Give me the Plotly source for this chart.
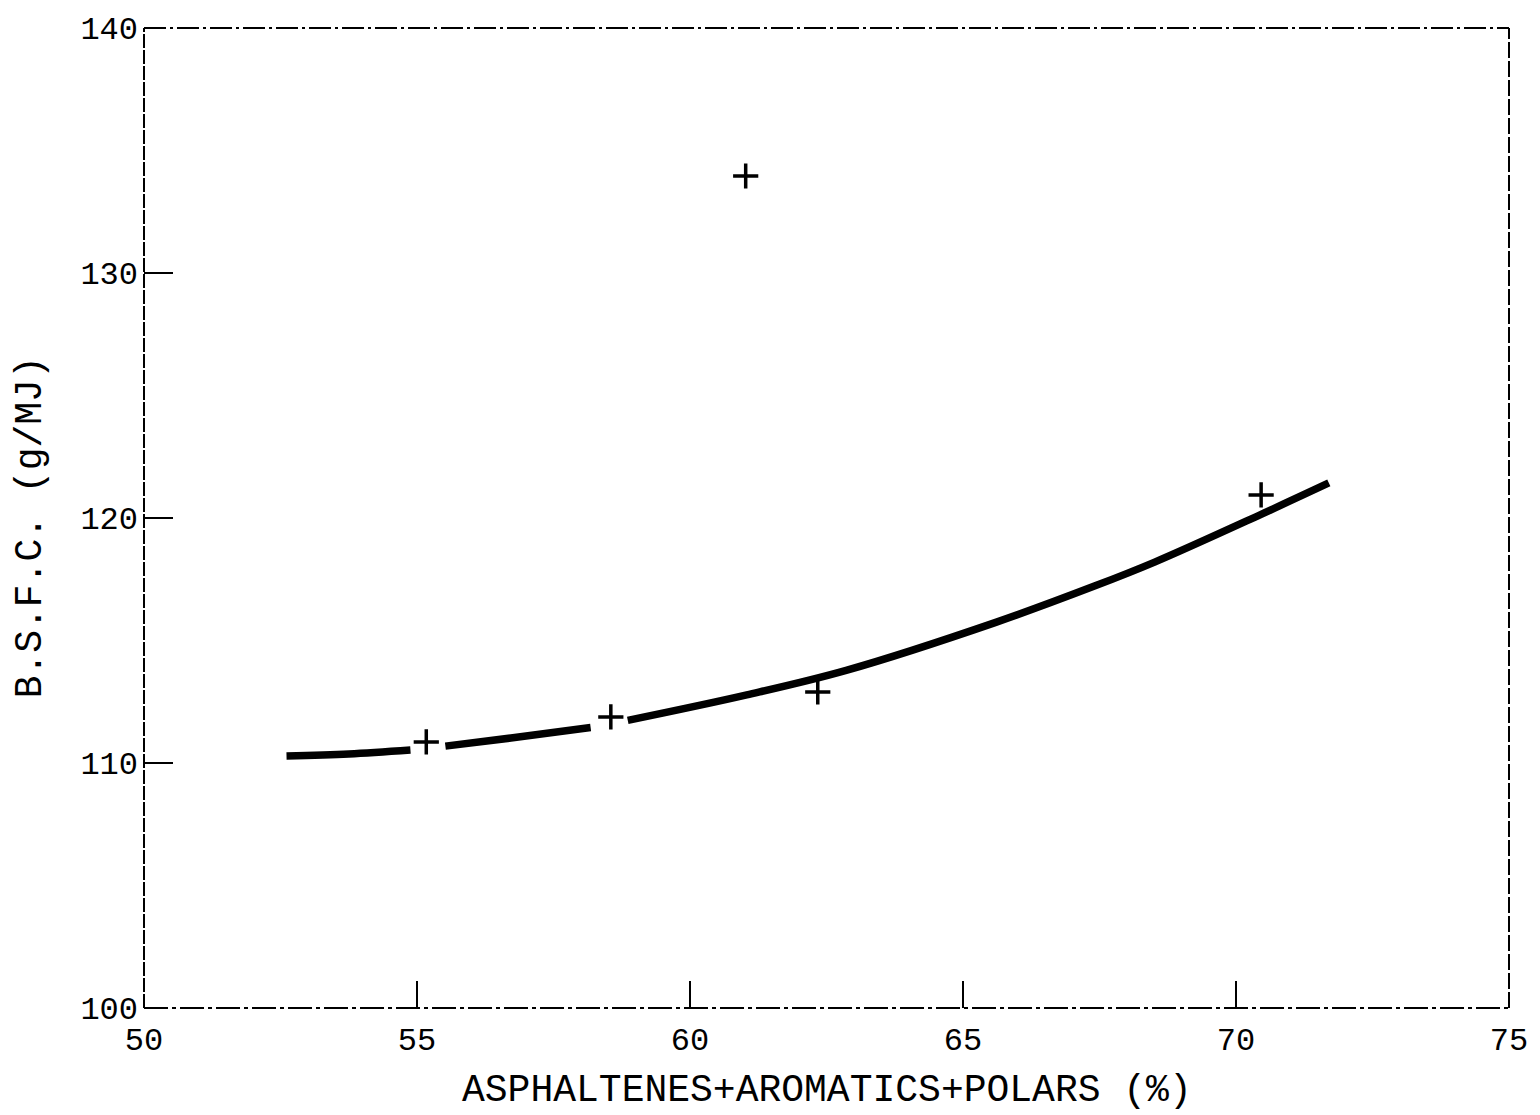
import plotly.graph_objects as go

# Measured points (+ markers)
pts_x = [55.17, 58.55, 61.02, 62.34, 70.46]
pts_y = [110.86, 111.88, 133.96, 112.90, 120.94]

# Fitted curve (three pieces, broken around the markers)
curve_x = [52.61, 53.75, 54.88, None,
           55.52, 56.72, 58.18, None,
           58.86, 61.04, 62.86, 65.60, 67.42, 68.51, 70.46, 71.70]
curve_y = [110.29, 110.37, 110.53, None,
           110.69, 111.02, 111.45, None,
           111.74, 112.78, 113.78, 115.74, 117.23, 118.20, 120.15, 121.43]

x_ticks = [50, 55, 60, 65, 70, 75]
y_ticks = [100, 110, 120, 130, 140]
x_title = "ASPHALTENES+AROMATICS+POLARS (%)"
y_title = "B.S.F.C. (g/MJ)"

FONT = "Liberation Mono"

fig = go.Figure()
fig.add_trace(go.Scatter(x=curve_x, y=curve_y, mode="lines", connectgaps=False,
                         line=dict(color="black", width=7.5, shape="spline", smoothing=1.0),
                         showlegend=False, hoverinfo="skip"))
fig.add_trace(go.Scatter(x=pts_x, y=pts_y, mode="markers",
                         marker=dict(symbol="cross-thin", size=18,
                                     line=dict(color="black", width=3.5)),
                         showlegend=False))

# Frame, plotter-style dashed lines
frame = [
    (0, 0, 0, 1, "14px,2px"),          # left
    (0, 1, 1, 1, "22px,4px,3px,4px"),  # top
    (0, 0, 1, 0, "24px,4px,4px,4px"),  # bottom
    (1, 0, 1, 1, "16px,3px"),          # right
]
for x0, y0, x1, y1, d in frame:
    fig.add_shape(type="line", xref="x domain", yref="y domain",
                  x0=x0, y0=y0, x1=x1, y1=y1,
                  line=dict(color="black", width=2, dash=d))

fig.update_xaxes(range=[50, 75], tickvals=x_ticks, ticktext=[str(v) for v in x_ticks],
                 ticks="inside", ticklen=27, tickwidth=2, tickcolor="black",
                 showgrid=False, zeroline=False, showline=False,
                 tickfont=dict(family=FONT, size=32, color="black"),
                 ticklabelstandoff=9)
fig.update_yaxes(range=[100, 140], tickvals=y_ticks, ticktext=[str(v) for v in y_ticks],
                 ticks="inside", ticklen=29, tickwidth=2, tickcolor="black",
                 showgrid=False, zeroline=False, showline=False,
                 tickfont=dict(family=FONT, size=32, color="black"),
                 ticklabelstandoff=5)

fig.add_annotation(text=x_title, xref="paper", yref="paper", x=0.5, y=-0.0837,
                   xanchor="center", yanchor="middle", showarrow=False,
                   font=dict(family=FONT, size=38, color="black"))
fig.add_annotation(text=y_title, xref="paper", yref="paper", x=-0.0831, y=0.49,
                   xanchor="center", yanchor="middle", showarrow=False, textangle=-90,
                   font=dict(family=FONT, size=38, color="black"))

fig.update_layout(width=1540, height=1115,
                  margin=dict(l=144, r=24, t=28, b=107),
                  paper_bgcolor="white", plot_bgcolor="white")

fig.write_html("out.html")
